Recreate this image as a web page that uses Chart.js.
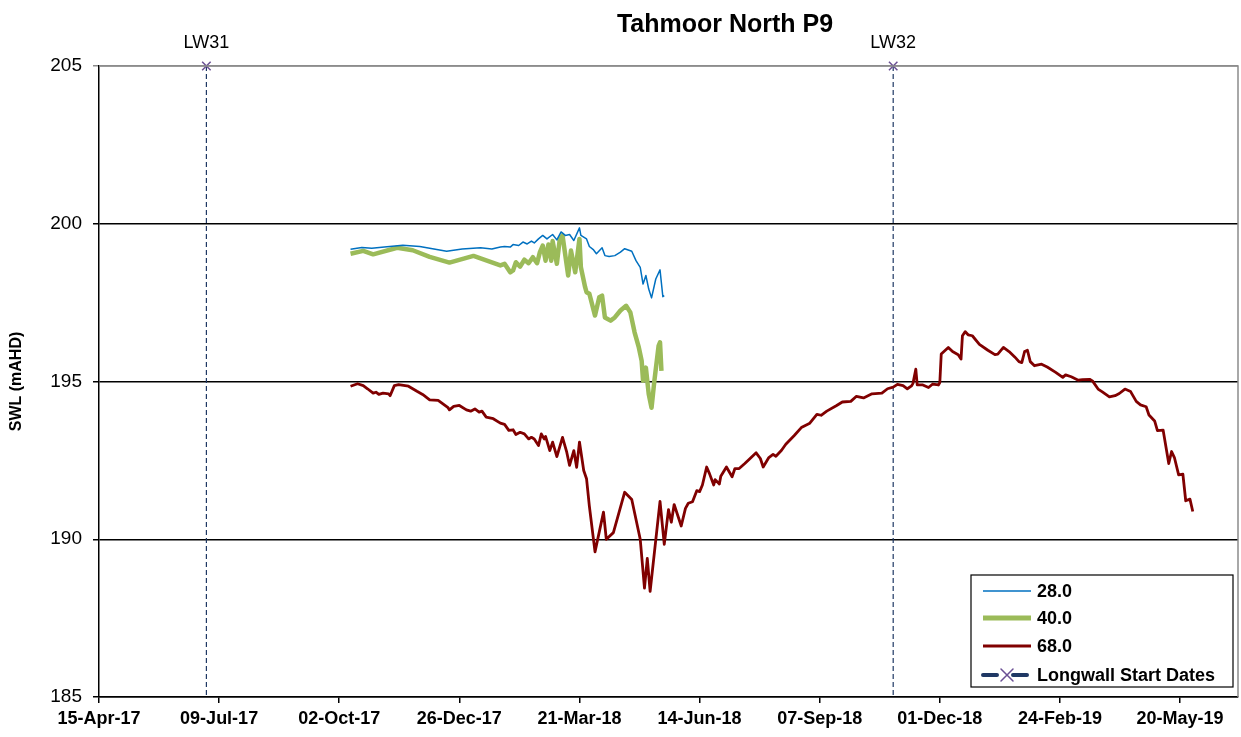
<!DOCTYPE html>
<html lang="en">
<head>
    <meta charset="UTF-8">
    <title>Tahmoor North P9</title>
    <script src="https://cdn.jsdelivr.net/npm/chart.js"></script>
    <style>
        html, body { margin: 0; padding: 0; background: #fff; }
        #wrap { width: 1241px; height: 737px; }
    </style>
</head>
<body>
<div id="wrap"><canvas id="swlChart" width="1241" height="737"></canvas></div>
<script type="text/javascript">
    // axis setup
    const xTickDates = ['2017-04-15', '2017-07-09', '2017-10-02', '2017-12-26', '2018-03-21',
                        '2018-06-14', '2018-09-07', '2018-12-01', '2019-02-24', '2019-05-20'];
    const xMinDate = '2017-04-15';
    const xMaxDate = '2019-06-30';
    const yTicks = [185, 190, 195, 200, 205];

    // piezometer 28.0 m
    const p28Dates = ['2017-10-10', '2017-10-18', '2017-10-25', '2017-11-03', '2017-11-16', '2017-11-28',
                      '2017-12-08', '2017-12-17', '2017-12-28', '2018-01-10', '2018-01-18', '2018-01-24',
                      '2018-01-27', '2018-01-31', '2018-02-02', '2018-02-06', '2018-02-09', '2018-02-12',
                      '2018-02-15', '2018-02-17', '2018-02-20', '2018-02-23', '2018-02-26', '2018-03-02',
                      '2018-03-05', '2018-03-08', '2018-03-11', '2018-03-14', '2018-03-17', '2018-03-21',
                      '2018-03-22', '2018-03-26', '2018-03-28', '2018-03-31', '2018-04-02', '2018-04-06',
                      '2018-04-08', '2018-04-11', '2018-04-15', '2018-04-19', '2018-04-22', '2018-04-27',
                      '2018-04-30', '2018-05-03', '2018-05-05', '2018-05-07', '2018-05-09', '2018-05-11',
                      '2018-05-14', '2018-05-17', '2018-05-19', '2018-05-20'];
    const p28Levels = [199.19, 199.25, 199.22, 199.26, 199.32, 199.28,
                       199.20, 199.13, 199.20, 199.24, 199.20, 199.26,
                       199.28, 199.26, 199.34, 199.31, 199.42, 199.36,
                       199.45, 199.39, 199.52, 199.63, 199.52, 199.66,
                       199.49, 199.74, 199.63, 199.66, 199.47, 199.87,
                       199.63, 199.52, 199.28, 199.17, 199.05, 199.24,
                       198.99, 198.96, 198.99, 199.10, 199.21, 199.13,
                       198.83, 198.62, 198.09, 198.36, 197.93, 197.65,
                       198.25, 198.54, 197.69, 197.72];

    // piezometer 40.0 m
    const p40Dates = ['2017-10-10', '2017-10-19', '2017-10-26', '2017-11-12', '2017-11-23', '2017-12-05',
                      '2017-12-19', '2018-01-05', '2018-01-14', '2018-01-24', '2018-01-27', '2018-01-31',
                      '2018-02-02', '2018-02-04', '2018-02-07', '2018-02-10', '2018-02-13', '2018-02-16',
                      '2018-02-19', '2018-02-21', '2018-02-23', '2018-02-25', '2018-02-27', '2018-03-01',
                      '2018-03-02', '2018-03-05', '2018-03-07', '2018-03-09', '2018-03-13', '2018-03-15',
                      '2018-03-18', '2018-03-21', '2018-03-22', '2018-03-25', '2018-03-26', '2018-03-28',
                      '2018-04-01', '2018-04-04', '2018-04-06', '2018-04-08', '2018-04-12', '2018-04-15',
                      '2018-04-19', '2018-04-23', '2018-04-26', '2018-04-29', '2018-05-02', '2018-05-04',
                      '2018-05-05', '2018-05-07', '2018-05-09', '2018-05-11', '2018-05-13', '2018-05-16',
                      '2018-05-17', '2018-05-18'];
    const p40Levels = [199.05, 199.14, 199.03, 199.24, 199.16, 198.95,
                       198.77, 198.98, 198.84, 198.68, 198.73, 198.46,
                       198.52, 198.78, 198.64, 198.86, 198.75, 198.94,
                       198.75, 199.10, 199.31, 198.83, 199.34, 198.83,
                       199.45, 198.73, 199.49, 199.63, 198.36, 199.15,
                       198.46, 199.52, 198.62, 197.99, 197.83, 197.78,
                       197.09, 197.67, 197.72, 197.03, 196.93, 197.03,
                       197.25, 197.40, 197.19, 196.56, 196.08, 195.66,
                       195.02, 195.44, 194.60, 194.17, 195.02, 196.13,
                       196.24, 195.34];

    // piezometer 68.0 m
    const p68Dates = ['2017-10-10', '2017-10-15', '2017-10-19', '2017-10-22', '2017-10-26', '2017-10-28',
                      '2017-10-30', '2017-11-02', '2017-11-06', '2017-11-07', '2017-11-10', '2017-11-13',
                      '2017-11-20', '2017-11-26', '2017-11-30', '2017-12-05', '2017-12-11', '2017-12-18',
                      '2017-12-19', '2017-12-22', '2017-12-26', '2017-12-31', '2018-01-03', '2018-01-06',
                      '2018-01-09', '2018-01-11', '2018-01-14', '2018-01-19', '2018-01-24', '2018-01-27',
                      '2018-01-30', '2018-02-02', '2018-02-04', '2018-02-07', '2018-02-10', '2018-02-13',
                      '2018-02-15', '2018-02-17', '2018-02-20', '2018-02-22', '2018-02-24', '2018-02-25',
                      '2018-02-28', '2018-03-02', '2018-03-05', '2018-03-09', '2018-03-12', '2018-03-14',
                      '2018-03-17', '2018-03-19', '2018-03-21', '2018-03-24', '2018-03-26', '2018-03-28',
                      '2018-04-01', '2018-04-07', '2018-04-09', '2018-04-14', '2018-04-22', '2018-04-27',
                      '2018-05-03', '2018-05-06', '2018-05-08', '2018-05-10', '2018-05-17', '2018-05-20',
                      '2018-05-23', '2018-05-25', '2018-05-27', '2018-06-01', '2018-06-04', '2018-06-06',
                      '2018-06-09', '2018-06-12', '2018-06-14', '2018-06-16', '2018-06-19', '2018-06-21',
                      '2018-06-24', '2018-06-25', '2018-06-28', '2018-06-29', '2018-07-03', '2018-07-07',
                      '2018-07-09', '2018-07-12', '2018-07-16', '2018-07-19', '2018-07-24', '2018-07-27',
                      '2018-07-29', '2018-08-02', '2018-08-05', '2018-08-07', '2018-08-11', '2018-08-14',
                      '2018-08-20', '2018-08-25', '2018-08-31', '2018-09-05', '2018-09-08', '2018-09-12',
                      '2018-09-19', '2018-09-23', '2018-09-29', '2018-10-03', '2018-10-08', '2018-10-14',
                      '2018-10-21', '2018-10-25', '2018-10-29', '2018-11-01', '2018-11-05', '2018-11-08',
                      '2018-11-11', '2018-11-12', '2018-11-14', '2018-11-15', '2018-11-19', '2018-11-23',
                      '2018-11-26', '2018-11-30', '2018-12-01', '2018-12-02', '2018-12-07', '2018-12-10',
                      '2018-12-14', '2018-12-16', '2018-12-17', '2018-12-19', '2018-12-21', '2018-12-24',
                      '2018-12-29', '2019-01-04', '2019-01-09', '2019-01-11', '2019-01-15', '2019-01-19',
                      '2019-01-23', '2019-01-26', '2019-01-28', '2019-01-30', '2019-02-01', '2019-02-03',
                      '2019-02-06', '2019-02-11', '2019-02-15', '2019-02-21', '2019-02-26', '2019-02-28',
                      '2019-03-04', '2019-03-09', '2019-03-12', '2019-03-17', '2019-03-19', '2019-03-23',
                      '2019-03-26', '2019-03-31', '2019-04-04', '2019-04-07', '2019-04-11', '2019-04-15',
                      '2019-04-19', '2019-04-22', '2019-04-26', '2019-04-28', '2019-05-02', '2019-05-04',
                      '2019-05-08', '2019-05-12', '2019-05-14', '2019-05-16', '2019-05-19', '2019-05-22',
                      '2019-05-24', '2019-05-27', '2019-05-29'];
    const p68Levels = [194.85, 194.93, 194.87, 194.77, 194.63, 194.66,
                       194.59, 194.63, 194.61, 194.55, 194.87, 194.90,
                       194.85, 194.69, 194.59, 194.42, 194.40, 194.17,
                       194.10, 194.21, 194.24, 194.10, 194.06, 194.13,
                       194.03, 194.06, 193.87, 193.82, 193.68, 193.64,
                       193.45, 193.47, 193.32, 193.39, 193.34, 193.18,
                       193.23, 193.18, 192.97, 193.34, 193.18, 193.26,
                       192.81, 193.08, 192.62, 193.23, 192.76, 192.34,
                       192.81, 192.28, 193.08, 192.18, 191.92, 191.05,
                       189.60, 190.86, 190.00, 190.21, 191.49, 191.26,
                       190.00, 188.45, 189.39, 188.35, 191.20, 189.84,
                       190.94, 190.54, 191.10, 190.42, 190.98, 191.14,
                       191.19, 191.54, 191.51, 191.72, 192.29, 192.08,
                       191.72, 191.89, 191.75, 192.00, 192.29, 191.98,
                       192.24, 192.24, 192.40, 192.53, 192.74, 192.56,
                       192.29, 192.59, 192.69, 192.63, 192.82, 193.01,
                       193.29, 193.54, 193.68, 193.96, 193.93, 194.06,
                       194.24, 194.35, 194.37, 194.53, 194.48, 194.61,
                       194.63, 194.77, 194.82, 194.91, 194.87, 194.77,
                       194.86, 194.94, 195.39, 194.89, 194.89, 194.81,
                       194.92, 194.89, 194.97, 195.87, 196.08, 195.95,
                       195.85, 195.71, 196.45, 196.58, 196.48, 196.45,
                       196.18, 195.99, 195.85, 195.87, 196.08, 195.95,
                       195.78, 195.63, 195.60, 195.95, 195.99, 195.63,
                       195.50, 195.55, 195.46, 195.29, 195.13, 195.21,
                       195.15, 195.04, 195.06, 195.07, 195.02, 194.76,
                       194.67, 194.51, 194.55, 194.62, 194.76, 194.68,
                       194.37, 194.26, 194.20, 193.94, 193.75, 193.44,
                       193.46, 192.40, 192.78, 192.59, 192.04, 192.06,
                       191.22, 191.27, 190.88];

    // longwall start dates
    const lwNames = ['LW31', 'LW32'];
    const lwDates = ['2017-06-30', '2018-10-29'];

    // helpers
    const MONTHS = ['Jan', 'Feb', 'Mar', 'Apr', 'May', 'Jun', 'Jul', 'Aug', 'Sep', 'Oct', 'Nov', 'Dec'];
    function dayNum(s) {
        const p = s.split('-').map(Number);
        return Date.UTC(p[0], p[1] - 1, p[2]) / 86400000;
    }
    function fmtDay(v) {
        const d = new Date(v * 86400000);
        return String(d.getUTCDate()).padStart(2, '0') + '-' + MONTHS[d.getUTCMonth()] + '-' +
               String(d.getUTCFullYear()).slice(2);
    }
    function toPoints(dates, levels) {
        return dates.map((d, i) => ({ x: dayNum(d), y: levels[i] }));
    }

    // vertical longwall lines, a gap between each
    const lwPoints = [];
    lwDates.forEach((d, i) => {
        if (i > 0) lwPoints.push({ x: dayNum(d) - 1, y: null });
        lwPoints.push({ x: dayNum(d), y: 205 });
        lwPoints.push({ x: dayNum(d), y: 185 });
    });

    const FONT = "'Liberation Sans', Arial, sans-serif";
    Chart.defaults.font.family = FONT;
    Chart.defaults.color = '#000';

    function drawCross(ctx, cx, cy, r) {
        ctx.beginPath();
        ctx.moveTo(cx - r, cy - r); ctx.lineTo(cx + r, cy + r);
        ctx.moveTo(cx - r, cy + r); ctx.lineTo(cx + r, cy - r);
        ctx.stroke();
    }

    // title, LW labels, plot border and legend drawn on top
    const decorPlugin = {
        id: 'decor',
        afterDraw(chart) {
            const ctx = chart.ctx;
            const area = chart.chartArea;
            const xs = chart.scales.x, ys = chart.scales.y;
            ctx.save();

            // top and right border
            ctx.strokeStyle = '#8c8c8c';
            ctx.lineWidth = 1.5;
            ctx.beginPath();
            ctx.moveTo(area.left, area.top);
            ctx.lineTo(area.right, area.top);
            ctx.lineTo(area.right, area.bottom);
            ctx.stroke();

            // title
            ctx.fillStyle = '#000';
            ctx.font = 'bold 25px ' + FONT;
            ctx.textAlign = 'center';
            ctx.textBaseline = 'alphabetic';
            ctx.fillText('Tahmoor North P9', 725, 32);

            // longwall labels
            ctx.font = '18px ' + FONT;
            lwDates.forEach((d, i) => {
                ctx.fillText(lwNames[i], xs.getPixelForValue(dayNum(d)), ys.getPixelForValue(205) - 18);
            });

            // legend box
            const bx = area.right - 267, by = area.bottom - 122, bw = 262, bh = 112;
            ctx.fillStyle = '#fff';
            ctx.fillRect(bx, by, bw, bh);
            ctx.strokeStyle = '#000';
            ctx.lineWidth = 1.2;
            ctx.strokeRect(bx, by, bw, bh);

            const rows = [by + 16, by + 43, by + 71, by + 100];
            chart.data.datasets.forEach((ds, i) => {
                const y = rows[i];
                ctx.save();
                ctx.strokeStyle = ds.borderColor;
                ctx.lineWidth = ds.legendWidth;
                ctx.beginPath();
                if (ds.label === 'Longwall Start Dates') {
                    ctx.lineCap = 'round';
                    ctx.moveTo(bx + 12, y); ctx.lineTo(bx + 26, y);
                    ctx.moveTo(bx + 42, y); ctx.lineTo(bx + 56, y);
                    ctx.stroke();
                    ctx.strokeStyle = ds.pointBorderColor;
                    ctx.lineWidth = 1.5;
                    drawCross(ctx, bx + 36, y, 6);
                } else {
                    ctx.moveTo(bx + 12, y);
                    ctx.lineTo(bx + 60, y);
                    ctx.stroke();
                }
                ctx.restore();
                ctx.fillStyle = '#000';
                ctx.font = 'bold 18px ' + FONT;
                ctx.textAlign = 'left';
                ctx.textBaseline = 'middle';
                ctx.fillText(ds.label, bx + 66, y + 1);
            });
            ctx.restore();
        }
    };

    const swlChart = new Chart(document.getElementById('swlChart').getContext('2d'), {
        type: 'line',
        data: {
            datasets: [
                {
                    label: '28.0',
                    data: toPoints(p28Dates, p28Levels),
                    borderColor: '#0070c0',
                    borderWidth: 1.5,
                    legendWidth: 1.5
                },
                {
                    label: '40.0',
                    data: toPoints(p40Dates, p40Levels),
                    borderColor: '#9bbb59',
                    borderWidth: 4.5,
                    legendWidth: 5
                },
                {
                    label: '68.0',
                    data: toPoints(p68Dates, p68Levels),
                    borderColor: '#800000',
                    borderWidth: 2.8,
                    legendWidth: 3
                },
                {
                    label: 'Longwall Start Dates',
                    data: lwPoints,
                    borderColor: '#1f3864',
                    borderWidth: 1.2,
                    borderDash: [5, 3],
                    legendWidth: 4,
                    spanGaps: false,
                    clip: false,
                    pointStyle: 'crossRot',
                    pointRadius: (c) => (c.raw && c.raw.y === 205) ? 6 : 0,
                    pointBorderColor: '#6a4f94',
                    pointBorderWidth: 1.5
                }
            ]
        },
        options: {
            responsive: false,
            animation: false,
            // marker overflow would otherwise shrink the plot on the right
            layout: { autoPadding: false, padding: { top: 66, right: 3, left: 0, bottom: 0 } },
            elements: {
                line: { tension: 0, borderJoinStyle: 'round' },
                point: { radius: 0 }
            },
            plugins: {
                legend: { display: false },
                tooltip: { enabled: false }
            },
            scales: {
                x: {
                    type: 'linear',
                    min: dayNum(xMinDate),
                    max: dayNum(xMaxDate),
                    afterBuildTicks: (s) => { s.ticks = xTickDates.map(d => ({ value: dayNum(d) })); },
                    afterFit: (s) => { s.height = 40; },
                    ticks: {
                        callback: (v) => fmtDay(v),
                        font: { size: 18, weight: 'bold' },
                        color: '#000',
                        padding: 5,
                        maxRotation: 0,
                        autoSkip: false
                    },
                    grid: { drawOnChartArea: false, drawTicks: true, tickLength: 6, color: '#000', lineWidth: 1.5 },
                    border: { color: '#000', width: 1.5 }
                },
                y: {
                    min: 185,
                    max: 205,
                    afterBuildTicks: (s) => { s.ticks = yTicks.map(v => ({ value: v })); },
                    afterFit: (s) => { s.width = 99; },
                    ticks: { font: { size: 19 }, color: '#000', padding: 11 },
                    grid: {
                        color: (c) => (c.tick && c.tick.value === 205) ? '#8c8c8c' : '#000',
                        lineWidth: 1.5,
                        tickLength: 6
                    },
                    border: { color: '#000', width: 1.5 },
                    title: {
                        display: true,
                        text: 'SWL (mAHD)',
                        font: { size: 16, weight: 'bold' },
                        color: '#000',
                        padding: { top: 7, bottom: 0 }
                    }
                }
            }
        },
        plugins: [decorPlugin]
    });
</script>
</body>
</html>
